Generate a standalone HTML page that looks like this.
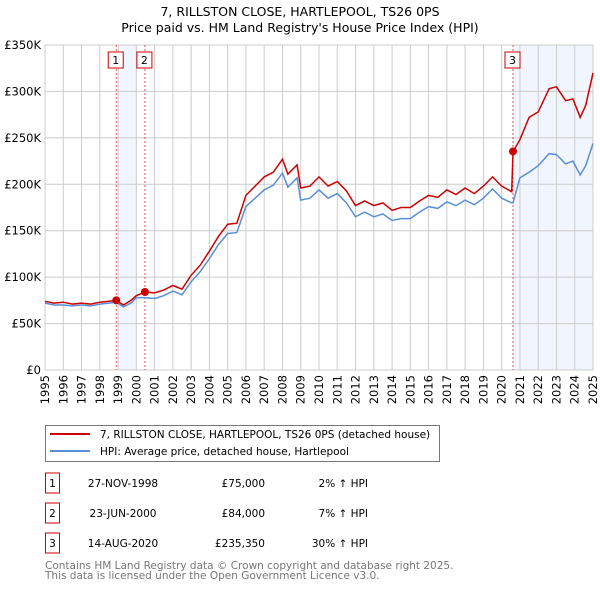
<!DOCTYPE html>
<html><head><meta charset="utf-8"><style>
body{margin:0;background:#fff;font-family:"DejaVu Sans","Liberation Sans",sans-serif}
svg text{font-family:"DejaVu Sans","Liberation Sans",sans-serif}
</style></head><body>
<svg id="c" width="600" height="590" xmlns="http://www.w3.org/2000/svg">
<text x="300" y="16" text-anchor="middle" font-size="12.5" fill="#000">7, RILLSTON CLOSE, HARTLEPOOL, TS26 0PS</text>
<text x="300" y="32" text-anchor="middle" font-size="12.5" fill="#000">Price paid vs. HM Land Registry's House Price Index (HPI)</text>
<g id="plot"></g>
<rect x="45.5" y="425.5" width="394" height="36" fill="#fff" stroke="#777"/>
<line x1="50" y1="434" x2="90" y2="434" stroke="#cc0000" stroke-width="2"/>
<text x="100" y="438" font-size="10.5">7, RILLSTON CLOSE, HARTLEPOOL, TS26 0PS (detached house)</text>
<line x1="50" y1="451" x2="90" y2="451" stroke="#5b8fd4" stroke-width="2"/>
<text x="100" y="455" font-size="10.5">HPI: Average price, detached house, Hartlepool</text>
<g id="tbl" font-size="10.5"></g>
<text x="45" y="569" font-size="10.5" fill="#777">Contains HM Land Registry data © Crown copyright and database right 2025.</text>
<text x="45" y="579" font-size="10.5" fill="#777">This data is licensed under the Open Government Licence v3.0.</text>
</svg>
<script>
const dates=[1995,1995.5,1996,1996.5,1997,1997.5,1998,1998.5,1998.9,1999.3,1999.7,2000,2000.47,2001,2001.5,2002,2002.5,2003,2003.5,2004,2004.5,2005,2005.5,2006,2006.5,2007,2007.5,2008,2008.3,2008.8,2009,2009.5,2010,2010.5,2011,2011.5,2012,2012.5,2013,2013.5,2014,2014.5,2015,2015.5,2016,2016.5,2017,2017.5,2018,2018.5,2019,2019.5,2020,2020.55,2020.62,2021,2021.5,2022,2022.6,2023,2023.5,2023.9,2024.3,2024.6,2025];
const hpiValues=[72,70,70,69,70,69,71,72,73,68,72,78,78,77,80,85,81,95,106,120,135,147,148,176,185,194,199,212,197,207,183,185,194,185,190,180,165,170,165,168,161,163,163,170,176,174,181,177,183,178,185,195,185,180,180,207,213,220,233,232,222,225,210,220,244];
const propertyValues=[74,72,73,71,72,71,73,74,75,70,75,80,84,83,86,91,87,102,113,128,144,157,158,188,198,208,213,227,211,221,196,198,208,198,203,193,177,182,177,180,172,175,175,182,188,186,194,189,196,190,198,208,198,192,235,248,272,278,303,305,290,292,272,285,320];
const saleLabels=["1","2","3"];
const saleDates=[1998.9,2000.47,2020.62];
const salePrices=[75,84,235.35];
const saleDateText=["27-NOV-1998","23-JUN-2000","14-AUG-2020"];
const salePriceText=["£75,000","£84,000","£235,350"];
const salePctText=["2% ↑ HPI","7% ↑ HPI","30% ↑ HPI"];
const yTicks=[0,50,100,150,200,250,300,350];
const yTickLabels=["£0","£50K","£100K","£150K","£200K","£250K","£300K","£350K"];
const xTicks=[1995,1996,1997,1998,1999,2000,2001,2002,2003,2004,2005,2006,2007,2008,2009,2010,2011,2012,2013,2014,2015,2016,2017,2018,2019,2020,2021,2022,2023,2024,2025];

const NS="http://www.w3.org/2000/svg";
const X0=45,X1=593,Y0=370,Y1=45;
const x=t=>X0+(t-1995)/(2025-1995)*(X1-X0);
const y=v=>Y0-v/350*(Y0-Y1);
const g=document.getElementById('plot');
function mk(tag,attrs,parent){const e=document.createElementNS(NS,tag);for(const k in attrs)e.setAttribute(k,attrs[k]);(parent||g).appendChild(e);return e;}

let e;
e=mk('rect',{x:x(saleDates[0])+2,y:Y1,width:x(2000)-x(saleDates[0])-2,height:Y0-Y1,fill:'#eef3fc',opacity:0.8});


e=mk('rect',{x:x(saleDates[2]),y:Y1,width:X1-x(saleDates[2]),height:Y0-Y1,fill:'#eef3fc',opacity:0.8});


yTicks.forEach((v,i)=>{
  e=mk('line',{x1:X0,x2:X1,y1:y(v),y2:y(v),stroke:'#cccccc','stroke-width':1});
  
  
  e=mk('text',{x:X0-4,y:y(v)+4,'text-anchor':'end','font-size':'11.5'});
  e.textContent=yTickLabels[i];
  
  
});
xTicks.forEach(t=>{
  e=mk('line',{x1:x(t),x2:x(t),y1:Y1,y2:Y0,stroke:'#cccccc','stroke-width':1});
  
  
  e=mk('text',{x:0,y:0,'font-size':'11.5','text-anchor':'end',transform:`translate(${x(t)+4},${Y0+5}) rotate(-90)`});
  e.textContent=t;
  
  
});
saleDates.forEach((d,i)=>{
  e=mk('line',{x1:x(d),x2:x(d),y1:Y1,y2:Y0,stroke:'#e05050','stroke-width':1,'stroke-dasharray':'2,2'});
  
  
  e=mk('rect',{x:x(d)-8,y:52,width:15,height:16,fill:'#fff',stroke:'#cc0000'});
  
  
  e=mk('text',{x:x(d)-0.5,y:64,'text-anchor':'middle','font-size':'11'});
  e.textContent=saleLabels[i];
  
  
});
const pts=a=>a.map((v,i)=>x(dates[i]).toFixed(1)+','+y(v).toFixed(1)).join(' ');
e=mk('polyline',{points:pts(hpiValues),fill:'none',stroke:'#5b8fd4','stroke-width':1.5});


e=mk('polyline',{points:pts(propertyValues),fill:'none',stroke:'#cc0000','stroke-width':1.5});


saleDates.forEach((d,i)=>{
  e=mk('circle',{cx:x(d),cy:y(salePrices[i]),r:4,fill:'#cc0000'});
  
  
});
const tb=document.getElementById('tbl');
saleLabels.forEach((l,i)=>{
  const cy=483+i*30;
  e=mk('rect',{x:45.5,y:cy-10,width:14,height:20,fill:'#fff',stroke:'#cc0000'},tb);
  
  
  e=mk('text',{x:52.5,y:cy+4,'text-anchor':'middle'},tb);e.textContent=l;
  
  
  e=mk('text',{x:123,y:cy+4,'text-anchor':'middle'},tb);e.textContent=saleDateText[i];
  
  
  e=mk('text',{x:265,y:cy+4,'text-anchor':'end'},tb);e.textContent=salePriceText[i];
  
  
  e=mk('text',{x:368,y:cy+4,'text-anchor':'end'},tb);e.textContent=salePctText[i];
  
  
});
</script>
</body></html>
